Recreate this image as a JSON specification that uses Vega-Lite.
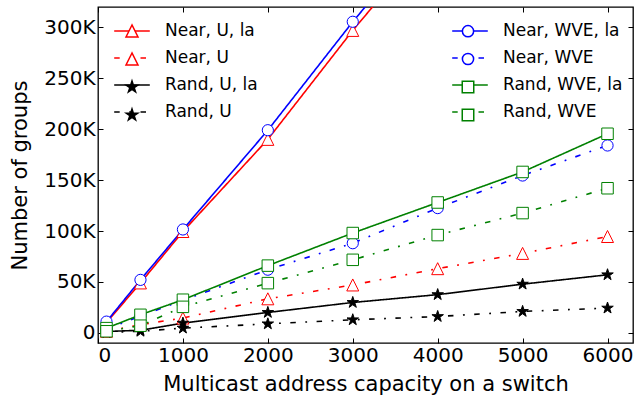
{
  "$schema": "https://vega.github.io/schema/vega-lite/v6.json",
  "width": 535,
  "height": 336,
  "autosize": {"type": "none"},
  "padding": {"left": 98, "top": 7, "right": 4, "bottom": 58},
  "config": {
    "font": "DejaVu Sans",
    "view": {"stroke": "black", "strokeWidth": 1.3},
    "axis": {
      "grid": false, "domain": false, "tickColor": "black", "tickSize": -5, "tickWidth": 1,
      "labelColor": "black", "labelFont": "DejaVu Sans", "labelFontSize": 20,
      "titleFont": "DejaVu Sans", "titleFontSize": 21, "titleFontWeight": "normal", "titleColor": "black"
    },
    "legend": {
      "orient": "none", "legendX": 15, "legendY": 5, "columns": 2, "columnPadding": 191,
      "rowPadding": -3, "labelFont": "DejaVu Sans", "labelFontSize": 17, "labelColor": "black",
      "labelOffset": 14, "labelLimit": 300, "padding": 0, "title": null, "symbolSize": 1267
    }
  },
  "data": {"values": [
    {"x": 100, "y": 10000, "series": "Near, U, la"},
    {"x": 500, "y": 49000, "series": "Near, U, la"},
    {"x": 1000, "y": 99500, "series": "Near, U, la"},
    {"x": 2000, "y": 190000, "series": "Near, U, la"},
    {"x": 3000, "y": 297000, "series": "Near, U, la"},
    {"x": 4000, "y": 396000, "series": "Near, U, la"},
    {"x": 5000, "y": 495000, "series": "Near, U, la"},
    {"x": 6000, "y": 594000, "series": "Near, U, la"},
    {"x": 100, "y": 1500, "series": "Near, U"},
    {"x": 500, "y": 8000, "series": "Near, U"},
    {"x": 1000, "y": 14500, "series": "Near, U"},
    {"x": 2000, "y": 33400, "series": "Near, U"},
    {"x": 3000, "y": 47000, "series": "Near, U"},
    {"x": 4000, "y": 63000, "series": "Near, U"},
    {"x": 5000, "y": 78000, "series": "Near, U"},
    {"x": 6000, "y": 94600, "series": "Near, U"},
    {"x": 100, "y": 1300, "series": "Rand, U, la"},
    {"x": 500, "y": 2500, "series": "Rand, U, la"},
    {"x": 1000, "y": 9500, "series": "Rand, U, la"},
    {"x": 2000, "y": 20000, "series": "Rand, U, la"},
    {"x": 3000, "y": 29800, "series": "Rand, U, la"},
    {"x": 4000, "y": 37500, "series": "Rand, U, la"},
    {"x": 5000, "y": 47800, "series": "Rand, U, la"},
    {"x": 6000, "y": 57000, "series": "Rand, U, la"},
    {"x": 100, "y": 300, "series": "Rand, U"},
    {"x": 500, "y": 1500, "series": "Rand, U"},
    {"x": 1000, "y": 4600, "series": "Rand, U"},
    {"x": 2000, "y": 8800, "series": "Rand, U"},
    {"x": 3000, "y": 12800, "series": "Rand, U"},
    {"x": 4000, "y": 16000, "series": "Rand, U"},
    {"x": 5000, "y": 21000, "series": "Rand, U"},
    {"x": 6000, "y": 24300, "series": "Rand, U"},
    {"x": 100, "y": 11000, "series": "Near, WVE, la"},
    {"x": 500, "y": 52000, "series": "Near, WVE, la"},
    {"x": 1000, "y": 101500, "series": "Near, WVE, la"},
    {"x": 2000, "y": 199000, "series": "Near, WVE, la"},
    {"x": 3000, "y": 305500, "series": "Near, WVE, la"},
    {"x": 4000, "y": 405000, "series": "Near, WVE, la"},
    {"x": 5000, "y": 505000, "series": "Near, WVE, la"},
    {"x": 6000, "y": 605000, "series": "Near, WVE, la"},
    {"x": 100, "y": 3500, "series": "Near, WVE"},
    {"x": 500, "y": 16500, "series": "Near, WVE"},
    {"x": 1000, "y": 32000, "series": "Near, WVE"},
    {"x": 2000, "y": 62000, "series": "Near, WVE"},
    {"x": 3000, "y": 88000, "series": "Near, WVE"},
    {"x": 4000, "y": 122500, "series": "Near, WVE"},
    {"x": 5000, "y": 154500, "series": "Near, WVE"},
    {"x": 6000, "y": 184000, "series": "Near, WVE"},
    {"x": 100, "y": 4600, "series": "Rand, WVE, la"},
    {"x": 500, "y": 17700, "series": "Rand, WVE, la"},
    {"x": 1000, "y": 32500, "series": "Rand, WVE, la"},
    {"x": 2000, "y": 66000, "series": "Rand, WVE, la"},
    {"x": 3000, "y": 98000, "series": "Rand, WVE, la"},
    {"x": 4000, "y": 128000, "series": "Rand, WVE, la"},
    {"x": 5000, "y": 158000, "series": "Rand, WVE, la"},
    {"x": 6000, "y": 195500, "series": "Rand, WVE, la"},
    {"x": 100, "y": 1500, "series": "Rand, WVE"},
    {"x": 500, "y": 7000, "series": "Rand, WVE"},
    {"x": 1000, "y": 25500, "series": "Rand, WVE"},
    {"x": 2000, "y": 48800, "series": "Rand, WVE"},
    {"x": 3000, "y": 71700, "series": "Rand, WVE"},
    {"x": 4000, "y": 96000, "series": "Rand, WVE"},
    {"x": 5000, "y": 117600, "series": "Rand, WVE"},
    {"x": 6000, "y": 142000, "series": "Rand, WVE"}
  ]},
  "layer": [
    {
      "mark": {"type": "line", "clip": true, "strokeWidth": 1.6},
      "encoding": {
        "x": {"field": "x", "type": "quantitative",
          "scale": {"domain": [0, 6300], "nice": false, "zero": false},
          "axis": {"orient": "bottom", "values": [0, 1000, 2000, 3000, 4000, 5000, 6000], "format": "d",
            "title": "Multicast address capacity on a switch", "labelPadding": 7, "titlePadding": 8}},
        "y": {"field": "y", "type": "quantitative",
          "scale": {"domain": [-10000, 320000], "nice": false, "zero": false},
          "axis": {"orient": "left", "values": [0, 50000, 100000, 150000, 200000, 250000, 300000],
            "labelExpr": "datum.value === 0 ? '0' : format(datum.value / 1000, 'd') + 'K'",
            "title": "Number of groups", "labelPadding": 8, "titlePadding": 13}},
        "stroke": {"field": "series", "type": "nominal",
          "scale": {
            "domain": ["Near, U, la", "Near, U", "Rand, U, la", "Rand, U", "Near, WVE, la", "Near, WVE", "Rand, WVE, la", "Rand, WVE"],
            "range": ["#ff0000", "#ff0000", "#000000", "#000000", "#0000ff", "#0000ff", "#008000", "#008000"]},
          "legend": {"symbolType": "stroke", "symbolStrokeWidth": 1.6}},
        "strokeDash": {"field": "series", "type": "nominal",
          "scale": {
            "domain": ["Near, U, la", "Near, U", "Rand, U, la", "Rand, U", "Near, WVE, la", "Near, WVE", "Rand, WVE, la", "Rand, WVE"],
            "range": [[1, 0], [5.5, 9.5, 1.8, 9.5], [1, 0], [5.5, 9.5, 1.8, 9.5], [1, 0], [5.5, 9.5, 1.8, 9.5], [1, 0], [5.5, 9.5, 1.8, 9.5]]},
          "legend": {"symbolType": "stroke", "symbolStrokeWidth": 1.6}}
      }
    },
    {
      "mark": {"type": "point", "clip": true, "opacity": 1, "strokeWidth": 1, "size": 1267},
      "encoding": {
        "x": {"field": "x", "type": "quantitative",
          "scale": {"domain": [0, 6300], "nice": false, "zero": false},
          "axis": {"orient": "top", "values": [0, 1000, 2000, 3000, 4000, 5000, 6000], "labels": false, "title": null}},
        "y": {"field": "y", "type": "quantitative",
          "scale": {"domain": [-10000, 320000], "nice": false, "zero": false},
          "axis": {"orient": "right", "values": [0, 50000, 100000, 150000, 200000, 250000, 300000], "labels": false, "title": null}},
        "stroke": {"field": "series", "type": "nominal",
          "scale": {
            "domain": ["Near, U, la", "Near, U", "Rand, U, la", "Rand, U", "Near, WVE, la", "Near, WVE", "Rand, WVE, la", "Rand, WVE"],
            "range": ["#ff0000", "#ff0000", "#000000", "#000000", "#0000ff", "#0000ff", "#008000", "#008000"]},
          "legend": {"labelExpr": "''", "columnPadding": 284}},
        "fill": {"field": "series", "type": "nominal",
          "scale": {
            "domain": ["Near, U, la", "Near, U", "Rand, U, la", "Rand, U", "Near, WVE, la", "Near, WVE", "Rand, WVE, la", "Rand, WVE"],
            "range": ["#ffffff", "#ffffff", "#000000", "#000000", "#ffffff", "#ffffff", "#ffffff", "#ffffff"]},
          "legend": {"labelExpr": "''", "columnPadding": 284}},
        "shape": {"field": "series", "type": "nominal",
          "scale": {
            "domain": ["Near, U, la", "Near, U", "Rand, U, la", "Rand, U", "Near, WVE, la", "Near, WVE", "Rand, WVE, la", "Rand, WVE"],
            "range": [
              "M0,-0.337L-0.337,0.337L0.337,0.337Z",
              "M0,-0.337L-0.337,0.337L0.337,0.337Z",
              "M0,-0.34L0.0765,-0.105L0.323,-0.105L0.123,0.04L0.2,0.275L0,0.13L-0.2,0.275L-0.123,0.04L-0.323,-0.105L-0.0765,-0.105Z",
              "M0,-0.34L0.0765,-0.105L0.323,-0.105L0.123,0.04L0.2,0.275L0,0.13L-0.2,0.275L-0.123,0.04L-0.323,-0.105L-0.0765,-0.105Z",
              "M0.315,0A0.315,0.315,0,1,1,-0.315,0A0.315,0.315,0,1,1,0.315,0Z",
              "M0.315,0A0.315,0.315,0,1,1,-0.315,0A0.315,0.315,0,1,1,0.315,0Z",
              "M-0.323,-0.323H0.323V0.323H-0.323Z",
              "M-0.323,-0.323H0.323V0.323H-0.323Z"
            ]},
          "legend": {"labelExpr": "''", "columnPadding": 284}}
      }
    }
  ],
  "resolve": {
    "scale": {"stroke": "independent", "strokeDash": "independent", "fill": "independent", "shape": "independent"},
    "axis": {"x": "independent", "y": "independent"}
  }
}
